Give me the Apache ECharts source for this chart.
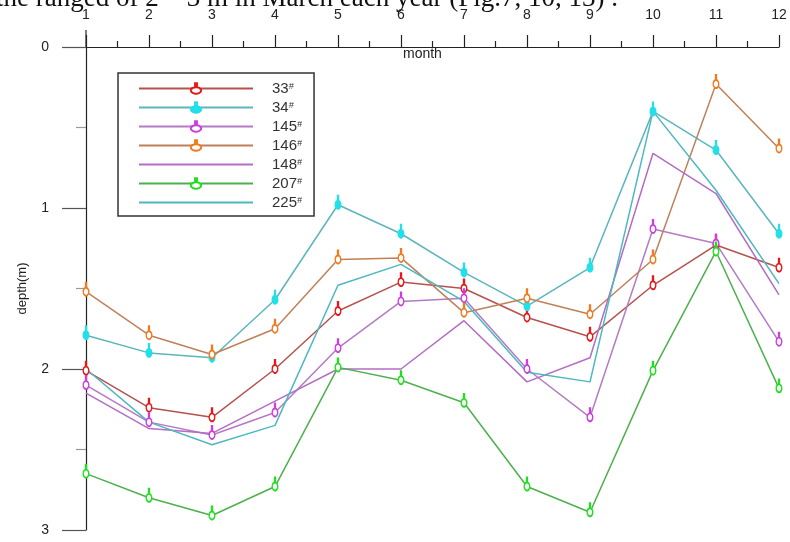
<!DOCTYPE html>
<html><head><meta charset="utf-8">
<script src="https://cdn.jsdelivr.net/npm/echarts@6/dist/echarts.min.js"></script>
<style>html,body{margin:0;padding:0;background:#fff}#c{width:790px;height:542px}</style>
</head><body><div id="c"></div>
<script>
const months = [1,2,3,4,5,6,7,8,9,10,11,12];
const yTicks = [0,1,2,3];
const seriesNames = ['33#','34#','145#','146#','148#','207#','225#'];
const d33  = [2.01,2.24,2.30,2.00,1.64,1.46,1.50,1.68,1.80,1.48,1.23,1.37];
const d34  = [1.79,1.90,1.93,1.57,0.98,1.16,1.40,1.61,1.37,0.40,0.64,1.16];
const d145 = [2.10,2.33,2.41,2.27,1.87,1.58,1.56,2.00,2.30,1.13,1.22,1.83];
const d146 = [1.52,1.79,1.91,1.75,1.32,1.31,1.65,1.56,1.66,1.32,0.23,0.63];
const d148 = [2.15,2.37,2.40,2.20,2.00,2.00,1.70,2.08,1.93,0.66,0.91,1.54];
const d207 = [2.65,2.80,2.91,2.73,1.99,2.07,2.21,2.73,2.89,2.01,1.27,2.12];
const d225 = [2.00,2.33,2.47,2.35,1.48,1.35,1.58,2.02,2.08,0.40,0.89,1.47];

const PIN = 'path://M4.2,0 L5.8,0 L5.8,5.572 A4.5,4.5 0 1 1 4.2,5.572 Z';
function pair(arr){ return arr.map((v,i)=>[months[i], v]); }
function mk(name, data, lineColor, markColor, filled, hasSym){
  return {
    name, type:'line', data: pair(data),
    symbol: hasSym ? PIN : 'none',
    showSymbol: hasSym,
    symbolSize: [9,13],
    symbolOffset: [0,'-19%'],
    symbolKeepAspect: true,
    lineStyle: {color: lineColor, width: 1.5},
    itemStyle: {color: filled ? markColor : '#fff', borderColor: markColor, borderWidth: 1.6},
    emphasis: {disabled: true},
    animation: false, z: 2
  };
}
const chart = echarts.init(document.getElementById('c'), null, {renderer:'canvas'});
chart.setOption({
  backgroundColor: '#fff',
  animation: false,
  grid: {left: 86, right: 11, top: 47, bottom: 12},
  xAxis: {
    type: 'value', position: 'top', min: 1, max: 12, interval: 1,
    axisLine: {show: true, lineStyle: {color: '#222', width: 1.2}},
    axisTick: {show: true, length: 12, lineStyle: {color: '#222', width: 1.2}},
    minorTick: {show: true, splitNumber: 2, length: 6, lineStyle: {color: '#222', width: 1.2}},
    axisLabel: {margin: 25, color: '#222', fontFamily: 'Liberation Sans', fontSize: 14},
    splitLine: {show: false}
  },
  yAxis: {
    type: 'value', inverse: true, min: 0, max: 3, interval: 1,
    axisLine: {show: true, lineStyle: {color: '#222', width: 1.2}},
    axisTick: {show: true, length: 24, lineStyle: {color: '#555', width: 1.2}},
    minorTick: {show: true, splitNumber: 2, length: 10, lineStyle: {color: '#999', width: 1.2}},
    axisLabel: {margin: 37, color: '#222', fontFamily: 'Liberation Sans', fontSize: 14,
      formatter: v => yTicks.includes(v) ? String(v) : ''},
    splitLine: {show: false},
    name: 'depth(m)', nameLocation: 'middle', nameGap: 57, nameRotate: 90,
    nameTextStyle: {color: '#222', fontFamily: 'Liberation Sans', fontSize: 13, align: 'center'}
  },
  legend: {
    orient: 'vertical', left: 118, top: 73,
    itemWidth: 114, itemHeight: 13, itemGap: 4,
    padding: [8, 12, 6, 20],
    borderColor: '#333', borderWidth: 1.5,
    data: seriesNames.map(n => (n === '148#' || n === '225#') ? {name: n, itemStyle: {opacity: 0}} : n),
    formatter: n => '{a|' + n.replace('#','') + '}{b|#}',
    textStyle: {
      padding: [0,0,0,14],
      rich: {
        a: {fontFamily: 'Liberation Sans', fontSize: 15, color: '#333', lineHeight: 13},
        b: {fontFamily: 'Liberation Sans', fontSize: 9, fontStyle: 'italic', color: '#333', verticalAlign: 'top', lineHeight: 13}
      }
    }
  },
  graphic: [
    {type: 'text', left: -4, top: -15, style: {text: 'the ranged of 2 ~ 3 m in March each year (Fig.7, 10, 13) .', font: '27px "Liberation Serif"', fill: '#111'}},
    {type: 'text', left: 403, top: 47, style: {text: 'month', font: '14px "Liberation Sans"', fill: '#222'}},
    {type: 'line', shape: {x1: 86, y1: 30, x2: 86, y2: 47}, style: {stroke: '#222', lineWidth: 1.2}}
  ],
  series: [
    mk('33#', d33, '#b5524e', '#e81818', false, true),
    mk('34#', d34, '#5ab6bc', '#22e0ea', true, true),
    mk('145#', d145, '#b47ac4', '#cc3ee0', false, true),
    mk('146#', d146, '#c08058', '#f07a1e', false, true),
    mk('148#', d148, '#b46cc4', '#b46cc4', false, false),
    mk('207#', d207, '#4cb04c', '#1ee01e', false, true),
    mk('225#', d225, '#4cb8c0', '#4cb8c0', false, false)
  ]
});
</script>
</body></html>
